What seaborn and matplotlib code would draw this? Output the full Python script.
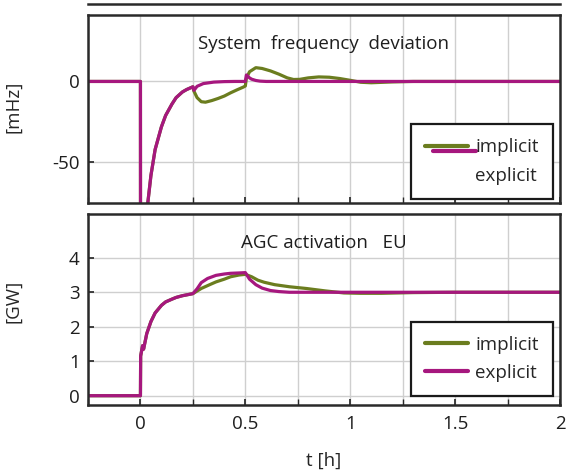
import numpy as np
import pandas as pd
import matplotlib
matplotlib.use("Agg")
import matplotlib.pyplot as plt
from matplotlib.lines import Line2D
from matplotlib.legend_handler import HandlerLine2D, HandlerTuple
import seaborn as sns

# ---------------- data ----------------
# System frequency deviation [mHz]
t_freq_exp = [-0.25, 0.0, 0.0005, 0.02, 0.035, 0.05, 0.07, 0.10, 0.12, 0.15, 0.17, 0.20, 0.22,
              0.25, 0.255, 0.27, 0.30, 0.35, 0.40, 0.45, 0.50, 0.505, 0.52, 0.53, 0.55, 0.57, 0.60, 2.0]
freq_exp = [0, 0, -150, -95, -75, -58, -42, -28, -21, -14, -10, -6.5, -5,
            -3.3, -5.5, -3.0, -1.3, -0.4, -0.1, 0, 0, 4.0, 2.2, 1.4, 0.6, 0.2, 0, 0]

t_freq_imp = [-0.25, 0.0, 0.0005, 0.02, 0.035, 0.05, 0.07, 0.10, 0.12, 0.15, 0.17, 0.20, 0.22,
              0.25, 0.255, 0.27, 0.29, 0.31, 0.34, 0.37, 0.40, 0.43, 0.46, 0.49, 0.50, 0.505,
              0.52, 0.55, 0.58, 0.62, 0.66, 0.70, 0.73, 0.76, 0.80, 0.85, 0.90, 0.95, 1.00,
              1.05, 1.10, 1.20, 1.30, 2.0]
freq_imp = [0, 0, -150, -95, -75, -58, -42, -28, -21, -14, -10, -6.5, -5,
            -3.3, -6.0, -10.0, -12.5, -12.8, -11.8, -10.5, -9.0, -7.0, -5.2, -3.5, -2.8, 2.0,
            6.0, 8.5, 8.0, 6.5, 4.5, 2.2, 1.2, 1.3, 2.2, 2.8, 2.6, 1.8, 0.7,
            -0.5, -0.8, -0.3, 0, 0]

# AGC activation EU [GW]
t_agc_exp = [-0.25, 0.0, 0.001, 0.01, 0.015, 0.03, 0.05, 0.07, 0.10, 0.12, 0.15, 0.17, 0.20,
             0.25, 0.27, 0.29, 0.32, 0.36, 0.40, 0.43, 0.47, 0.50, 0.52, 0.55, 0.58, 0.62,
             0.66, 0.71, 0.80, 2.0]
agc_exp = [0, 0, 1.15, 1.45, 1.35, 1.8, 2.15, 2.4, 2.62, 2.72, 2.8, 2.85, 2.9,
           2.96, 3.1, 3.28, 3.4, 3.49, 3.53, 3.55, 3.56, 3.57, 3.38, 3.22, 3.12, 3.05,
           3.02, 3.0, 3.0, 3.0]

t_agc_imp = [-0.25, 0.0, 0.001, 0.01, 0.015, 0.03, 0.05, 0.07, 0.10, 0.12, 0.15, 0.17, 0.20,
             0.25, 0.29, 0.33, 0.36, 0.40, 0.43, 0.47, 0.50, 0.53, 0.56, 0.59, 0.64, 0.71,
             0.79, 0.88, 0.97, 1.05, 1.15, 1.30, 1.50, 2.0]
agc_imp = [0, 0, 1.15, 1.45, 1.35, 1.8, 2.15, 2.4, 2.62, 2.72, 2.8, 2.85, 2.9,
           2.96, 3.11, 3.22, 3.30, 3.38, 3.45, 3.50, 3.52, 3.45, 3.35, 3.29, 3.22, 3.16,
           3.11, 3.04, 2.98, 2.97, 2.97, 2.99, 3.0, 3.0]

series_labels = ["implicit", "explicit"]
titles = ["System  frequency  deviation", "AGC activation   EU"]
ylabels = ["[mHz]", "[GW]"]
xlabel = "t [h]"

# ---------------- style ----------------
sns.set_theme(style="white")
plt.rcParams["font.family"] = ["Open Sans", "DejaVu Sans"]
plt.rcParams["axes.unicode_minus"] = False

C_IMP = "#6b7d1f"
C_EXP = "#a6177e"
FRAME = "#2a2a2a"
GRID = "#cfcfcf"
FS = 13.5
TXT = "#1e1e1e"

W, H = 566, 475
fig = plt.figure(figsize=(W / 100, H / 100), dpi=100)

def fx(px):
    return px / W

def fy(py):
    return 1 - py / H

L, R = 88, 560
ax_top = fig.add_axes([fx(L), fy(203), fx(R) - fx(L), fy(15) - fy(203)])
ax_bot = fig.add_axes([fx(L), fy(405), fx(R) - fx(L), fy(214) - fy(405)])
ax_cut = fig.add_axes([fx(L), fy(4), fx(R) - fx(L), 0.2])

df_f = pd.concat([
    pd.DataFrame({"t": t_freq_imp, "v": freq_imp, "s": series_labels[0]}),
    pd.DataFrame({"t": t_freq_exp, "v": freq_exp, "s": series_labels[1]}),
])
df_a = pd.concat([
    pd.DataFrame({"t": t_agc_imp, "v": agc_imp, "s": series_labels[0]}),
    pd.DataFrame({"t": t_agc_exp, "v": agc_exp, "s": series_labels[1]}),
])
pal = {series_labels[0]: C_IMP, series_labels[1]: C_EXP}

for ax, df in [(ax_top, df_f), (ax_bot, df_a)]:
    sns.lineplot(data=df, x="t", y="v", hue="s", palette=pal, ax=ax,
                 linewidth=2.3, legend=False, estimator=None, sort=False)

def style_axis(ax):
    ax.set_xlim(-0.25, 2.0)
    ax.set_xticks([0, 0.5, 1, 1.5, 2])
    ax.set_xticks(np.arange(-0.25, 2.01, 0.25), minor=True)
    ax.grid(True, which="both", axis="x", color=GRID, linewidth=1)
    ax.grid(True, which="major", axis="y", color=GRID, linewidth=1)
    for sp in ax.spines.values():
        sp.set_color(FRAME)
        sp.set_linewidth(1.8)
    ax.tick_params(axis="both", which="both", direction="in", length=4,
                   color=FRAME, labelsize=FS, labelcolor=TXT)
    ax.tick_params(axis="x", which="both", bottom=True, top=False)
    ax.tick_params(axis="y", which="both", left=True, right=False, pad=6)
    ax.set_xlabel("")
    ax.set_ylabel("")

style_axis(ax_top)
style_axis(ax_bot)

ax_top.set_ylim(-75, 41)
ax_top.set_yticks([0, -50])
ax_top.set_yticklabels(["0", "-50"])
ax_top.tick_params(axis="x", labelbottom=False)

ax_bot.set_ylim(-0.27, 5.27)
ax_bot.set_yticks([0, 1, 2, 3, 4])
ax_bot.set_xticklabels(["0", "0.5", "1", "1.5", "2"])
ax_bot.tick_params(axis="x", pad=7)

ax_top.text(0.5, 0.845, titles[0], transform=ax_top.transAxes, ha="center", va="center",
            fontsize=FS, color=TXT)
ax_bot.text(0.5, 0.85, titles[1], transform=ax_bot.transAxes, ha="center", va="center",
            fontsize=FS, color=TXT)

ax_top.set_ylabel(ylabels[0], fontsize=FS)
ax_top.yaxis.set_label_coords(-0.14, 0.51)
ax_bot.set_ylabel(ylabels[1], fontsize=FS)
ax_bot.yaxis.set_label_coords(-0.14, 0.54)
ax_bot.set_xlabel(xlabel, fontsize=FS, labelpad=14)

# cut-off axis at the very top
ax_cut.set_xlim(-0.25, 2.0)
ax_cut.set_xticks(np.arange(-0.25, 2.01, 0.25))
ax_cut.set_yticks([])
ax_cut.tick_params(axis="x", direction="in", length=4, color=FRAME, labelbottom=False)
for name, sp in ax_cut.spines.items():
    sp.set_color(FRAME)
    sp.set_linewidth(1.8)
    if name in ("left", "right"):
        sp.set_visible(False)
ax_cut.set_facecolor("white")

# legends
class OffsetHandler(HandlerLine2D):
    def __init__(self, dx=0.0, dy=0.0, **kw):
        super().__init__(**kw)
        self.dx, self.dy = dx, dy

    def create_artists(self, legend, orig_handle, xdescent, ydescent, width, height, fontsize, trans):
        arts = super().create_artists(legend, orig_handle, xdescent, ydescent, width, height, fontsize, trans)
        for a in arts:
            a.set_xdata(np.asarray(a.get_xdata()) + self.dx)
            a.set_ydata(np.asarray(a.get_ydata()) + self.dy)
        return arts

h_imp = Line2D([], [], color=C_IMP, linewidth=3)
h_exp = Line2D([], [], color=C_EXP, linewidth=3)
h_exp_off = Line2D([], [], color=C_EXP, linewidth=3)
h_blank = Line2D([], [], color="none", linewidth=0)

leg_kw = dict(fontsize=FS, frameon=True, fancybox=False, framealpha=1,
              edgecolor="#1a1a1a", borderaxespad=0, handlelength=2.3,
              borderpad=0.75, labelspacing=0.55, handletextpad=0.4)

leg1 = ax_top.legend([(h_imp, h_exp_off), h_blank], series_labels, loc="lower right",
                     bbox_to_anchor=(0.985, 0.022),
                     handler_map={tuple: HandlerTuple(ndivide=1),
                                  h_exp_off: OffsetHandler(dx=6, dy=-4)},
                     **leg_kw)
leg1.get_frame().set_linewidth(1.6)

leg2 = ax_bot.legend([h_imp, h_exp], series_labels, loc="lower right",
                     bbox_to_anchor=(0.985, 0.047), **leg_kw)
leg2.get_frame().set_linewidth(1.6)

fig.savefig("out.png", dpi=100)
